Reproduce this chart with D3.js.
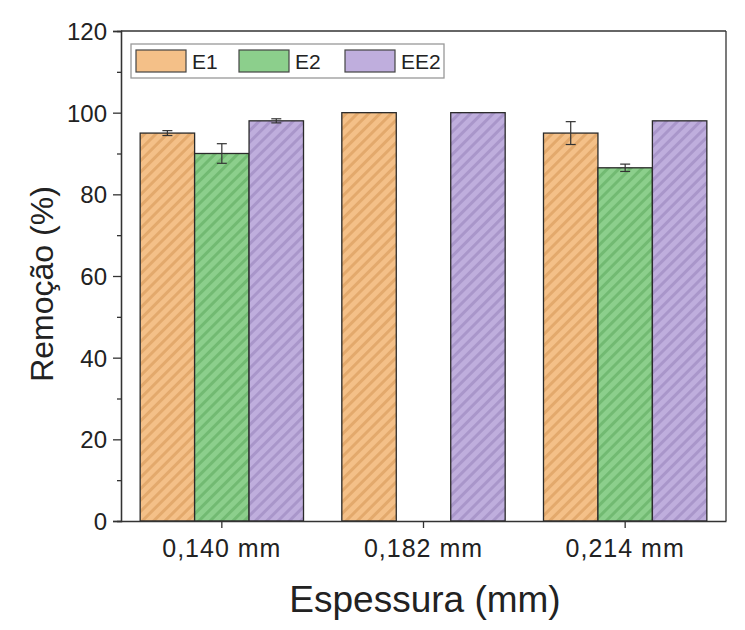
<!DOCTYPE html>
<html lang="pt">
<head>
<meta charset="UTF-8">
<title>Remoção por espessura</title>
<script src="https://d3js.org/d3.v7.min.js"></script>
<style>
  body { margin: 0; background: #fff; font-family: "Liberation Sans", Arial, sans-serif; }
  .axis text { font-family: "Liberation Sans", Arial, sans-serif; fill: #222; }
  .axis path, .axis line { stroke: #333; stroke-width: 1.3px; }
</style>
</head>
<body>
<svg id="chart" width="745" height="630"></svg>
<script>
// data
var categories = ["0,140 mm", "0,182 mm", "0,214 mm"];
var seriesNames = ["E1", "E2", "EE2"];
var e1 = [95, 100, 95];
var e2 = [90, null, 86.5];
var ee2 = [98, 100, 98];
var e1Err = [0.6, 0, 2.8];
var e2Err = [2.4, 0, 0.9];
var ee2Err = [0.5, 0, 0];
var yTicks = [0, 20, 40, 60, 80, 100, 120];

var fills = { E1: "#f4c088", E2: "#8ccf8c", EE2: "#bfaedd" };
var hatch = { E1: "#e3a96c", E2: "#72ba72", EE2: "#a996ca" };

var rows = [];
categories.forEach(function (c, i) {
    rows.push({ cat: c, s: "E1", v: e1[i], err: e1Err[i] });
    rows.push({ cat: c, s: "E2", v: e2[i], err: e2Err[i] });
    rows.push({ cat: c, s: "EE2", v: ee2[i], err: ee2Err[i] });
});

var svg = d3.select("#chart");
var margin = { left: 121, top: 31, right: 19, bottom: 109 };
var width = 745 - margin.left - margin.right,
    height = 630 - margin.top - margin.bottom;

// hatch patterns
var defs = svg.append("defs");
seriesNames.forEach(function (s) {
    var p = defs.append("pattern")
        .attr("id", "hatch-" + s)
        .attr("patternUnits", "userSpaceOnUse")
        .attr("width", 8).attr("height", 8)
        .attr("patternTransform", "rotate(45)");
    p.append("rect").attr("width", 8).attr("height", 8).attr("fill", fills[s]);
    p.append("rect").attr("x", 0).attr("width", 3).attr("height", 8).attr("fill", hatch[s]);
});

var g = svg.append("g").attr("transform", "translate(" + margin.left + "," + margin.top + ")");

var x0 = d3.scaleBand().domain(categories).range([0, width]).paddingInner(0.19).paddingOuter(0.095);
var x1 = d3.scaleBand().domain(seriesNames).range([0, x0.bandwidth()]);
var y = d3.scaleLinear().domain([0, 120]).range([height, 0]);

// bars
g.selectAll(".bar")
    .data(rows.filter(function (d) { return d.v != null; }))
    .enter().append("rect")
    .attr("class", "bar")
    .attr("x", function (d) { return x0(d.cat) + x1(d.s); })
    .attr("y", function (d) { return y(d.v); })
    .attr("width", x1.bandwidth())
    .attr("height", function (d) { return height - y(d.v); })
    .attr("fill", function (d) { return "url(#hatch-" + d.s + ")"; })
    .attr("stroke", "#2a2a2a")
    .attr("stroke-width", 1.3);

// error bars
var eb = g.selectAll(".err")
    .data(rows.filter(function (d) { return d.v != null && d.err > 0; }))
    .enter().append("g").attr("class", "err")
    .attr("stroke", "#333").attr("stroke-width", 1.2);
function cx(d) { return x0(d.cat) + x1(d.s) + x1.bandwidth() / 2; }
eb.append("line")
    .attr("x1", cx).attr("x2", cx)
    .attr("y1", function (d) { return y(d.v + d.err); })
    .attr("y2", function (d) { return y(d.v - d.err); });
eb.append("line")
    .attr("x1", function (d) { return cx(d) - 5; }).attr("x2", function (d) { return cx(d) + 5; })
    .attr("y1", function (d) { return y(d.v + d.err); })
    .attr("y2", function (d) { return y(d.v + d.err); });
eb.append("line")
    .attr("x1", function (d) { return cx(d) - 5; }).attr("x2", function (d) { return cx(d) + 5; })
    .attr("y1", function (d) { return y(d.v - d.err); })
    .attr("y2", function (d) { return y(d.v - d.err); });

// frame
g.append("line").attr("x1", 0).attr("x2", width).attr("y1", 0).attr("y2", 0)
    .attr("stroke", "#333").attr("stroke-width", 1.3);
g.append("line").attr("x1", width).attr("x2", width).attr("y1", 0).attr("y2", height)
    .attr("stroke", "#333").attr("stroke-width", 1.3);

// y axis with minor ticks
var yMinor = d3.range(10, 120, 20);
g.append("g").attr("class", "axis")
    .call(d3.axisLeft(y).tickValues(yMinor).tickSize(4).tickFormat(""));
var yAxis = g.append("g").attr("class", "axis")
    .call(d3.axisLeft(y).tickValues(yTicks).tickSize(8).tickPadding(6));
yAxis.selectAll("text").style("font-size", "24px").attr("dy", "0.36em");

// x axis
var xAxis = g.append("g").attr("class", "axis")
    .attr("transform", "translate(0," + height + ")")
    .call(d3.axisBottom(x0).tickSize(7).tickSizeOuter(0).tickPadding(11));
xAxis.selectAll("text").style("font-size", "25px").style("letter-spacing", "1px");

// axis titles
svg.append("text")
    .attr("transform", "translate(53,284) rotate(-90)")
    .attr("text-anchor", "middle")
    .style("font-size", "32px").style("fill", "#222")
    .text("Remoção (%)");
svg.append("text")
    .attr("x", 425).attr("y", 612)
    .attr("text-anchor", "middle")
    .style("font-size", "37px").style("fill", "#222")
    .text("Espessura (mm)");

// legend
var leg = svg.append("g").attr("transform", "translate(131,44)");
leg.append("rect").attr("width", 313).attr("height", 34)
    .attr("fill", "#fff").attr("stroke", "#999").attr("stroke-width", 1.3);
var legX = [5, 108, 214];
seriesNames.forEach(function (s, i) {
    leg.append("rect").attr("x", legX[i]).attr("y", 6).attr("width", 50).attr("height", 22)
        .attr("fill", fills[s]).attr("stroke", "#444").attr("stroke-width", 1.2);
    leg.append("text").attr("x", legX[i] + 56).attr("y", 25)
        .style("font-size", "21px").style("fill", "#222").text(s);
});
</script>
</body>
</html>
